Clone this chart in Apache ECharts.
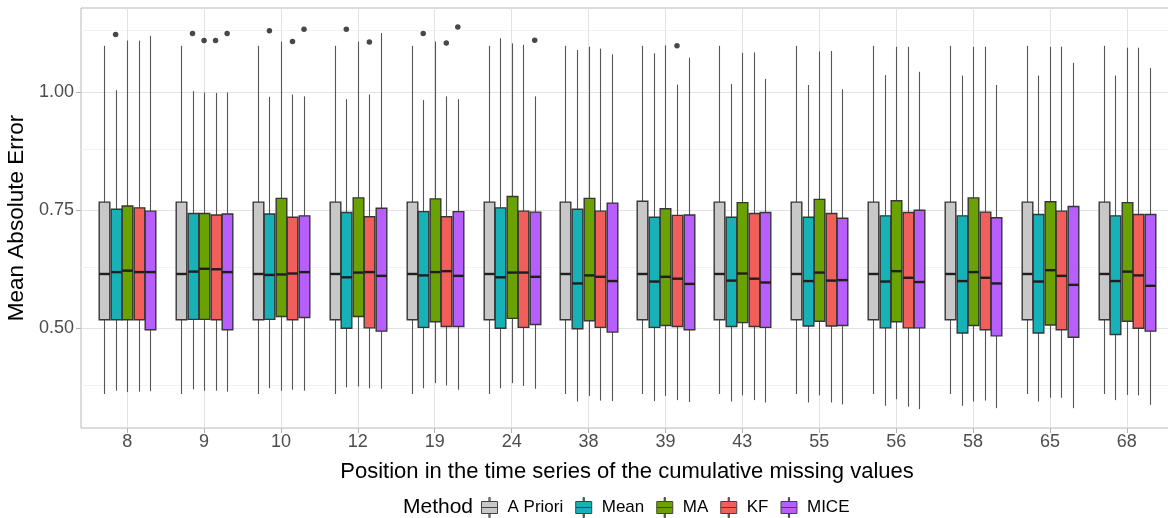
<!DOCTYPE html>
<html>
<head>
<meta charset="utf-8">
<script src="https://cdn.jsdelivr.net/npm/echarts@6/dist/echarts.min.js"></script>
<style>
html,body{margin:0;padding:0;background:#fff;}
#chart{width:1168px;height:518px;}
</style>
</head>
<body>
<div id="chart"></div>
<script>
const categories = ['8','9','10','12','19','24','38','39','43','55','56','58','65','68'];
const methods = ['A Priori','Mean','MA','KF','MICE'];
const yTicks = [0.5, 0.75, 1.0];
const yMinorTicks = [0.375, 0.625, 0.875, 1.125];

// [lower whisker, Q1, median, Q3, upper whisker] per category
const aPrioriStats = [
  [0.361,0.518,0.615,0.767,1.098],[0.361,0.518,0.615,0.767,1.098],[0.361,0.518,0.615,0.767,1.098],
  [0.361,0.518,0.615,0.767,1.098],[0.361,0.518,0.615,0.767,1.098],[0.361,0.518,0.615,0.767,1.098],
  [0.361,0.518,0.615,0.767,1.098],[0.361,0.518,0.615,0.769,1.098],[0.361,0.518,0.615,0.767,1.098],
  [0.361,0.518,0.615,0.767,1.098],[0.361,0.518,0.615,0.767,1.098],[0.361,0.518,0.615,0.767,1.098],
  [0.361,0.518,0.615,0.767,1.098],[0.361,0.518,0.615,0.767,1.098]
];
const meanStats = [
  [0.368,0.518,0.619,0.752,1.004],[0.371,0.519,0.620,0.743,1.002],[0.373,0.519,0.613,0.742,0.990],
  [0.375,0.500,0.608,0.745,0.985],[0.373,0.502,0.612,0.747,0.983],[0.373,0.500,0.608,0.755,1.114],
  [0.345,0.499,0.595,0.752,1.089],[0.346,0.502,0.599,0.735,1.082],[0.345,0.504,0.601,0.735,1.017],
  [0.343,0.505,0.600,0.735,1.015],[0.336,0.501,0.599,0.738,1.036],[0.336,0.490,0.600,0.738,1.035],
  [0.345,0.490,0.599,0.741,1.035],[0.348,0.487,0.600,0.738,1.035]
];
const maStats = [
  [0.365,0.518,0.622,0.759,1.109],[0.368,0.519,0.626,0.743,0.999],[0.368,0.525,0.614,0.775,1.107],
  [0.377,0.525,0.618,0.776,1.107],[0.384,0.514,0.619,0.774,1.107],[0.384,0.521,0.618,0.779,1.103],
  [0.357,0.516,0.612,0.775,1.096],[0.357,0.506,0.609,0.753,1.099],[0.358,0.512,0.616,0.766,1.083],
  [0.358,0.515,0.618,0.773,1.086],[0.350,0.514,0.621,0.770,1.096],[0.345,0.506,0.619,0.776,1.096],
  [0.353,0.507,0.623,0.768,1.096],[0.359,0.515,0.620,0.766,1.094]
];
const kfStats = [
  [0.366,0.518,0.619,0.755,1.109],[0.368,0.518,0.625,0.740,0.998],[0.370,0.518,0.616,0.735,0.995],
  [0.373,0.501,0.619,0.736,0.995],[0.379,0.504,0.621,0.736,0.991],[0.378,0.502,0.618,0.748,1.100],
  [0.347,0.502,0.609,0.748,1.092],[0.348,0.504,0.605,0.739,1.016],[0.348,0.504,0.605,0.743,1.084],
  [0.343,0.505,0.601,0.743,1.087],[0.334,0.501,0.607,0.745,1.096],[0.347,0.497,0.607,0.746,1.096],
  [0.353,0.497,0.611,0.748,1.096],[0.358,0.500,0.612,0.741,1.094]
];
const miceStats = [
  [0.367,0.497,0.619,0.748,1.119],[0.366,0.497,0.619,0.742,0.999],[0.368,0.523,0.619,0.738,0.991],
  [0.372,0.494,0.611,0.754,1.125],[0.370,0.504,0.611,0.747,0.985],[0.372,0.508,0.609,0.746,0.991],
  [0.346,0.492,0.600,0.765,1.080],[0.344,0.497,0.594,0.740,1.073],[0.343,0.502,0.597,0.745,1.028],
  [0.339,0.506,0.602,0.733,1.006],[0.329,0.501,0.598,0.750,1.043],[0.331,0.484,0.595,0.734,1.015],
  [0.331,0.481,0.592,0.758,1.062],[0.338,0.494,0.590,0.741,1.051]
];

// outliers: [category index, value]
const aPrioriOutliers = [];
const meanOutliers = [[0,1.122],[1,1.124],[2,1.130],[3,1.133],[4,1.124]];
const maOutliers = [[1,1.109]];
const kfOutliers = [[1,1.109],[2,1.107],[3,1.106],[4,1.104],[7,1.098]];
const miceOutliers = [[1,1.124],[2,1.133],[4,1.138],[5,1.110]];

const colors = ['#C8C8C8','#17B2B7','#6AA203','#F25E5A','#B75EFC'];
const allStats = [aPrioriStats, meanStats, maStats, kfStats, miceStats];
const allOutliers = [aPrioriOutliers, meanOutliers, maOutliers, kfOutliers, miceOutliers];

const dodge = 0.15;
const boxW = 0.138;
function xPos(ci, mi){ return (ci + 1) + (mi - 2) * dodge; }

const FONT = 'Liberation Sans, Arial, sans-serif';
const series = [];
// gridlines (behind everything)
series.push({
  type: 'line', name: '__grid', data: [], z: 0, silent: true,
  markLine: {
    z: 0, silent: true, symbol: ['none','none'], label: {show:false}, animation:false,
    emphasis: {disabled: true},
    data: [].concat(
      yMinorTicks.map(v => ({yAxis: v, lineStyle:{color:'#F2F2F2', width:1, type:'solid'}})),
      yTicks.map(v => ({yAxis: v, lineStyle:{color:'#E2E2E2', width:1, type:'solid'}})),
      categories.map((c,i) => ({xAxis: i+1, lineStyle:{color:'#E2E2E2', width:1, type:'solid'}}))
    )
  }
});

methods.forEach((m, mi) => {
  const color = colors[mi];
  series.push({
    type: 'custom', name: m, z: 10,
    itemStyle: {color: color, borderColor: '#333', borderWidth: 1},
    encode: {x: 0, y: [1,2,3,4,5]},
    data: allStats[mi].map((s, ci) => [xPos(ci, mi)].concat(s)),
    renderItem: function(params, api){
      const x = api.value(0);
      const lo = api.coord([x, api.value(1)]);
      const q1 = api.coord([x, api.value(2)]);
      const md = api.coord([x, api.value(3)]);
      const q3 = api.coord([x, api.value(4)]);
      const hi = api.coord([x, api.value(5)]);
      const w = api.size([boxW, 0])[0];
      const cx = Math.round(lo[0]) + 0.5;
      return {
        type: 'group',
        children: [
          {type:'line', shape:{x1:cx, y1:lo[1], x2:cx, y2:q1[1]}, style:{stroke:'#555555', lineWidth:1.1}},
          {type:'line', shape:{x1:cx, y1:q3[1], x2:cx, y2:hi[1]}, style:{stroke:'#555555', lineWidth:1.1}},
          {type:'rect', shape:{x:cx - w/2, y:q3[1], width:w, height:q1[1]-q3[1]},
            style:{fill:color, stroke:'#363636', lineWidth:1.4}},
          {type:'line', shape:{x1:cx - w/2, y1:md[1], x2:cx + w/2, y2:md[1]},
            style:{stroke:'#1E1E1E', lineWidth:2.4}}
        ]
      };
    }
  });
});

const outlierData = [];
allOutliers.forEach((arr, mi) => arr.forEach(o => outlierData.push([xPos(o[0], mi), o[1]])));
series.push({
  type: 'scatter', name: '__outliers', z: 11, symbol: 'circle', symbolSize: 5.5,
  itemStyle: {color: '#1A1A1A'}, data: outlierData
});

const glyph = 'path://M7.4,0L8.6,0L8.6,4L7.4,4Z M0,4L16,4L16,10L0,10Z M0,10L16,10L16,16L0,16Z M7.4,16L8.6,16L8.6,20L7.4,20Z';

const chart = echarts.init(document.getElementById('chart'), null, {renderer:'canvas'});
chart.setOption({
  animation: false,
  backgroundColor: '#ffffff',
  textStyle: {fontFamily: FONT},
  grid: {left: 81, top: 8, width: 1092, height: 420, show: true, borderColor: '#B8B8B8', borderWidth: 1,
         containLabel: false, outerBoundsMode: 'none'},
  xAxis: {
    type: 'value', min: 0.4, max: 14.6,
    name: 'Position in the time series of the cumulative missing values',
    nameLocation: 'middle', nameGap: 33,
    nameTextStyle: {fontSize: 22, color: '#000', fontFamily: FONT},
    axisLine: {show: false},
    axisTick: {show: true, length: 5, lineStyle: {color: '#B3B3B3'}, customValues: categories.map((c,i)=>i+1)},
    axisLabel: {show: true, fontSize: 18, color: '#4D4D4D', margin: 5,
      customValues: categories.map((c,i)=>i+1),
      formatter: v => categories[Math.round(v) - 1]},
    splitLine: {show: false}
  },
  yAxis: {
    type: 'value', min: 0.289, max: 1.178,
    name: 'Mean Absolute Error', nameLocation: 'middle', nameGap: 42,
    nameTextStyle: {fontSize: 22.5, color: '#000', fontFamily: FONT},
    axisLine: {show: false},
    axisTick: {show: true, length: 5, lineStyle: {color: '#B3B3B3'}, customValues: yTicks},
    axisLabel: {show: true, fontSize: 18, color: '#4D4D4D', margin: 7,
      customValues: yTicks, formatter: v => v.toFixed(2)},
    splitLine: {show: false}
  },
  legend: {
    left: 476, top: 492, orient: 'horizontal',
    itemWidth: 16, itemHeight: 20, itemGap: 12,
    textStyle: {fontSize: 17, color: '#000', padding: [0,0,0,5], fontFamily: FONT},
    data: methods.map((m, i) => ({name: m, icon: glyph,
      itemStyle: {color: colors[i], borderColor: '#444', borderWidth: 1}}))
  },
  graphic: [{
    type: 'text', left: 403, top: 497,
    style: {text: 'Method', fontSize: 21, fill: '#000', fontFamily: FONT}
  }],
  series: series
});
</script>
</body>
</html>
